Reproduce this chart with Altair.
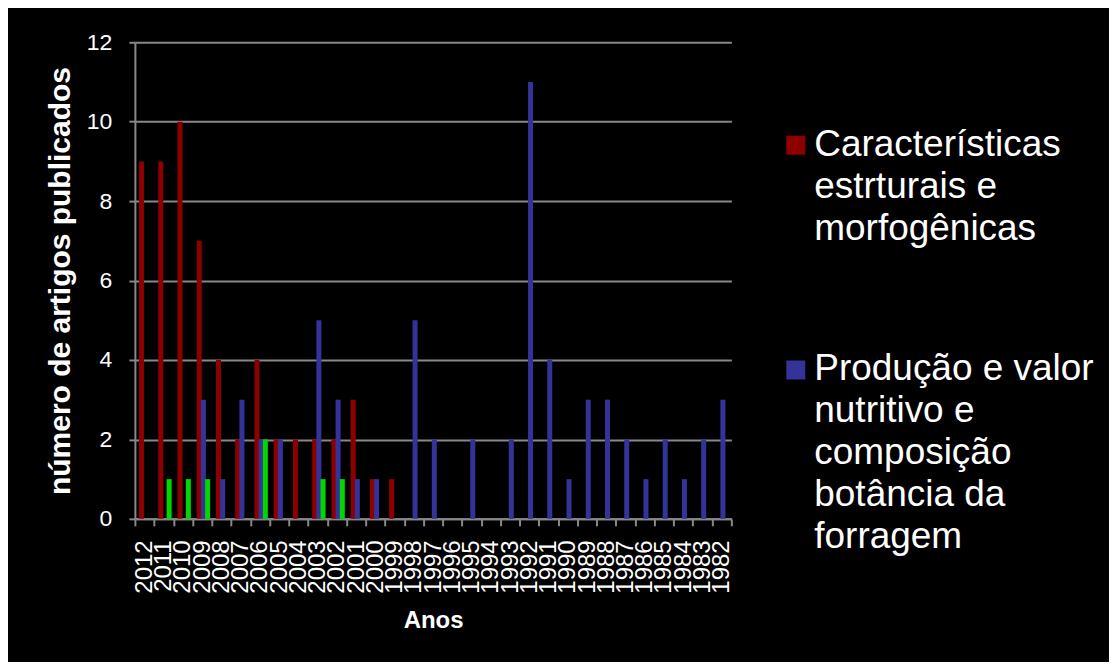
import json
import altair as alt
import pandas as pd

# ---- data ----
years = ["2012", "2011", "2010", "2009", "2008", "2007", "2006", "2005", "2004", "2003",
         "2002", "2001", "2000", "1999", "1998", "1997", "1996", "1995", "1994", "1993",
         "1992", "1991", "1990", "1989", "1988", "1987", "1986", "1985", "1984", "1983", "1982"]

S_RED = "Características estrturais e morfogênicas"
S_BLUE = "Produção e valor nutritivo e composição botância da forragem"
S_GREEN = "Outros"

red_vals = [9, 9, 10, 7, 4, 2, 4, 2, 2, 2, 2, 3, 1, 1, 0, 0, 0, 0, 0, 0,
            0, 0, 0, 0, 0, 0, 0, 0, 0, 0, 0]
blue_vals = [0, 0, 0, 3, 1, 3, 2, 2, 0, 5, 3, 1, 1, 0, 5, 2, 0, 2, 0, 2,
             11, 4, 1, 3, 3, 2, 1, 2, 1, 2, 3]
green_vals = [0, 1, 1, 1, 0, 0, 2, 0, 0, 1, 1, 0, 0, 0, 0, 0, 0, 0, 0, 0,
              0, 0, 0, 0, 0, 0, 0, 0, 0, 0, 0]

series_order = [S_RED, S_BLUE, S_GREEN]
series_colors = ["#8e0000", "#333399", "#00d800"]

red_lines = ["Características", "estrturais e", "morfogênicas"]
blue_lines = ["Produção e valor", "nutritivo e", "composição", "botância da", "forragem"]

y_ticks = [0, 2, 4, 6, 8, 10, 12]

# ---- table ----
rows = []
for i, yr in enumerate(years):
    for name, vals in ((S_RED, red_vals), (S_BLUE, blue_vals), (S_GREEN, green_vals)):
        rows.append({"ano": yr, "serie": name, "valor": vals[i]})
df = pd.DataFrame(rows)

label_expr = "datum.label == {} ? {} : {}".format(
    json.dumps(S_RED), json.dumps(red_lines), json.dumps(blue_lines))

GRAY = "#888888"

chart = alt.Chart(df).mark_bar(size=5).encode(
    x=alt.X("ano:N", sort=years,
            scale=alt.Scale(paddingInner=0, paddingOuter=0),
            axis=alt.Axis(title="Anos", labelAngle=-90, labelFontSize=24, labelColor="white",
                          tickBand="extent", tickSize=7, tickColor=GRAY, tickWidth=2,
                          domainColor=GRAY, domainWidth=2, labelPadding=14,
                          titleFontSize=24, titleFontWeight="bold", titleColor="white",
                          titlePadding=15, grid=False)),
    xOffset=alt.XOffset("serie:N", sort=series_order,
                        scale=alt.Scale(domain=series_order, paddingInner=0,
                                        paddingOuter=0.8, align=0.68)),
    y=alt.Y("valor:Q", scale=alt.Scale(domain=[0, 12]),
            axis=alt.Axis(title="número de artigos publicados", values=y_ticks,
                          labelFontSize=23, labelColor="white", labelPadding=17,
                          tickSize=6, tickColor=GRAY, tickWidth=2,
                          domainColor=GRAY, domainWidth=2,
                          grid=True, gridColor=GRAY, gridWidth=2,
                          titleFontSize=30, titleFontWeight="bold", titleColor="white",
                          titlePadding=11)),
    color=alt.Color("serie:N",
                    scale=alt.Scale(domain=series_order, range=series_colors),
                    legend=alt.Legend(title=None, orient="none", legendX=643, legendY=66,
                                      values=[S_RED, S_BLUE],
                                      symbolType="M-1,0.95H1V2.95H-1Z", symbolSize=361,
                                      symbolStrokeWidth=0, labelFontSize=37,
                                      labelColor="white", labelBaseline="top",
                                      labelOffset=0, rowPadding=86, padding=0,
                                      labelLimit=500, labelExpr=label_expr)),
).properties(
    width=597, height=477,
    autosize=alt.AutoSizeParams(type="none"),
    padding={"left": 127, "top": 34, "right": 378, "bottom": 143},
    background="black",
).configure(
    font="Liberation Sans",
    style={"guide-label": {"lineHeight": 42}},
).configure_view(stroke=None)

chart.save("out.html", embed_options={"renderer": "svg", "actions": False})
